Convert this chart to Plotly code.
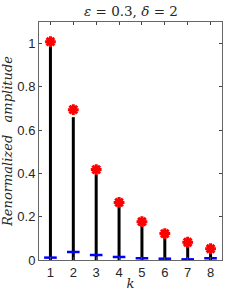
import plotly.graph_objects as go

k = [1, 2, 3, 4, 5, 6, 7, 8]
red_vals = [1.009, 0.695, 0.418, 0.266, 0.177, 0.122, 0.082, 0.052]
stem_vals = [1.0, 0.66, 0.395, 0.252, 0.163, 0.106, 0.066, 0.040]
blue_vals = [0.011, 0.037, 0.023, 0.014, 0.008, 0.006, 0.003, 0.008]
y_ticks = [0, 0.2, 0.4, 0.6, 0.8, 1]
y_ticklabels = ["0", "0.2", "0.4", "0.6", "0.8", "1"]

sx, sy = [], []
for xi, yi in zip(k, stem_vals):
    sx += [xi, xi, None]
    sy += [0, yi, None]

fig = go.Figure()
fig.add_trace(go.Scatter(x=sx, y=sy, mode="lines",
                         line=dict(color="black", width=3), hoverinfo="skip"))
fig.add_trace(go.Scatter(x=k, y=blue_vals, mode="markers",
                         marker=dict(symbol="line-ew", size=9, color="blue",
                                     line=dict(color="blue", width=2.5))))
fig.add_trace(go.Scatter(x=k, y=red_vals, mode="markers",
                         marker=dict(symbol="asterisk-open", size=9, color="red",
                                     line=dict(color="red", width=3))))
fig.add_trace(go.Scatter(x=k, y=red_vals, mode="markers",
                         marker=dict(symbol="circle", size=6, color="red")))

axis_common = dict(showline=True, linecolor="#666", linewidth=1, mirror="ticks",
                   ticks="inside", ticklen=3, tickcolor="#444", showgrid=False,
                   zeroline=False, automargin=False,
                   tickfont=dict(family="Liberation Sans", size=13, color="#262626"))

fig.update_layout(
    width=245, height=294,
    margin=dict(l=39, r=23, t=22, b=34),
    plot_bgcolor="white", paper_bgcolor="white",
    showlegend=False,
    annotations=[dict(text="<i>ε</i> = 0.3, <i>δ</i> = 2", x=0.5, xref="paper",
                      xanchor="center", y=1, yref="paper", yanchor="bottom", yshift=1,
                      showarrow=False,
                      font=dict(family="DejaVu Serif", size=13.5, color="#262626"))],
    xaxis=dict(range=[0.5, 8.5], tickvals=k, ticklabelstandoff=0,
               title=dict(text="<i>k</i>", standoff=0,
               font=dict(family="DejaVu Serif", size=13, color="#262626")), **axis_common),
    yaxis=dict(range=[0, 1.1], tickvals=y_ticks, ticktext=y_ticklabels,
               title=dict(text="<i>Renormalized   amplitude</i>", standoff=14,
                          font=dict(family="DejaVu Serif", size=13, color="#262626")),
               **axis_common),
)

fig.write_html("out.html", config={"displayModeBar": False},
               post_script="document.body.style.margin='0';")
